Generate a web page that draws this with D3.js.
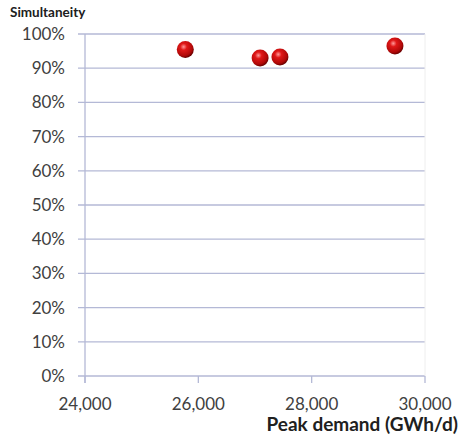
<!DOCTYPE html>
<html>
<head>
<meta charset="utf-8">
<script src="https://cdn.jsdelivr.net/npm/d3@7"></script>
<style>
  body { margin: 0; background: #fff; }
  text { font-family: Lato, "Open Sans", sans-serif; }
</style>
</head>
<body>
<script>
// data
const peakDemand = [25770, 27090, 27440, 29470];
const simultaneity = [0.955, 0.930, 0.933, 0.965];
const yTicks = [0, 0.1, 0.2, 0.3, 0.4, 0.5, 0.6, 0.7, 0.8, 0.9, 1.0];
const xTicks = [24000, 26000, 28000, 30000];

const width = 462, height = 437;
const plotLeft = 85, plotRight = 425, plotTop = 34, plotBottom = 376;

const svg = d3.select('body').append('svg')
  .attr('width', width)
  .attr('height', height);

const x = d3.scaleLinear().domain([24000, 30000]).range([plotLeft, plotRight]);
const y = d3.scaleLinear().domain([0, 1]).range([plotBottom, plotTop]);

const grad = svg.append('defs').append('radialGradient')
  .attr('id', 'ball').attr('cx', '40%').attr('cy', '35%').attr('r', '65%');
grad.append('stop').attr('offset', '0%').attr('stop-color', '#ff9a9a');
grad.append('stop').attr('offset', '30%').attr('stop-color', '#e01818');
grad.append('stop').attr('offset', '80%').attr('stop-color', '#b00808');
grad.append('stop').attr('offset', '100%').attr('stop-color', '#6a0000');

// gridlines
svg.append('g').selectAll('line')
  .data(yTicks)
  .enter()
  .append('line')
  .attr('x1', plotLeft - 7)
  .attr('x2', plotRight)
  .attr('y1', d => y(d))
  .attr('y2', d => y(d))
  .attr('stroke', '#b4b9d6')
  .attr('stroke-width', 1.3);

// right border of plot area
svg.append('line')
  .attr('x1', plotRight).attr('x2', plotRight)
  .attr('y1', plotTop).attr('y2', plotBottom)
  .attr('stroke', '#eeeeee');

// y axis line
svg.append('line')
  .attr('x1', plotLeft).attr('x2', plotLeft)
  .attr('y1', plotTop).attr('y2', plotBottom + 7)
  .attr('stroke', '#b4b9d6')
  .attr('stroke-width', 1.3);

// x ticks
svg.append('g').selectAll('line')
  .data(xTicks)
  .enter()
  .append('line')
  .attr('x1', d => x(d))
  .attr('x2', d => x(d))
  .attr('y1', plotBottom)
  .attr('y2', plotBottom + 7)
  .attr('stroke', '#b4b9d6')
  .attr('stroke-width', 1.3);

// y labels
svg.append('g').selectAll('text')
  .data(yTicks)
  .enter()
  .append('text')
  .attr('x', 65)
  .attr('y', d => y(d) + 6)
  .attr('text-anchor', 'end')
  .attr('font-size', 17)
  .attr('fill', '#404040')
  .text(d3.format('.0%'));

// x labels
svg.append('g').selectAll('text')
  .data(xTicks)
  .enter()
  .append('text')
  .attr('x', d => x(d))
  .attr('y', 410)
  .attr('text-anchor', 'middle')
  .attr('font-size', 17)
  .attr('fill', '#404040')
  .text(d3.format(','));

svg.append('text')
  .attr('x', 10).attr('y', 17)
  .attr('font-size', 13.5)
  .attr('font-weight', 'bold')
  .attr('fill', '#202020')
  .text('Simultaneity');

svg.append('text')
  .attr('x', 458).attr('y', 431)
  .attr('text-anchor', 'end')
  .attr('font-size', 19)
  .attr('font-weight', 'bold')
  .attr('fill', '#202020')
  .text('Peak demand (GWh/d)');

// points
svg.append('g').selectAll('circle')
  .data(peakDemand)
  .enter()
  .append('circle')
  .attr('cx', d => x(d))
  .attr('cy', (d, i) => y(simultaneity[i]))
  .attr('r', 8.5)
  .attr('fill', 'url(#ball)');
</script>
</body>
</html>
